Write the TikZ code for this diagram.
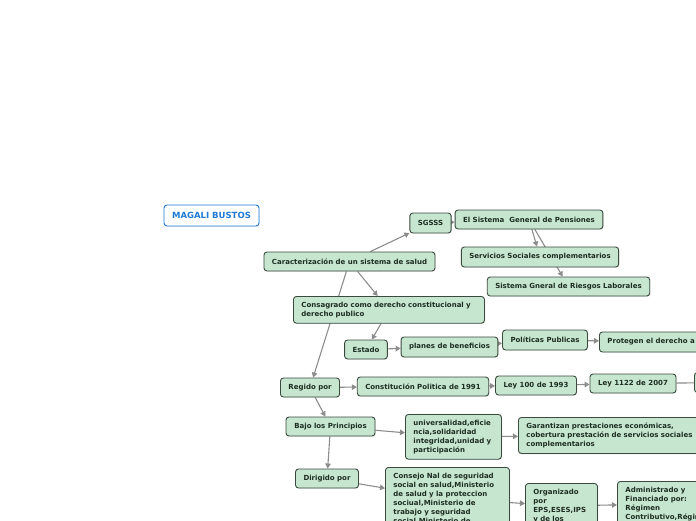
\documentclass[tikz,border=0pt]{standalone}
\usepackage{fontspec}
\setmainfont{DejaVu Sans}
\usetikzlibrary{arrows.meta,shadows,backgrounds}
\definecolor{boxgreen}{RGB}{199,230,207}
\definecolor{boxline}{RGB}{58,74,62}
\definecolor{boxtext}{RGB}{30,45,34}
\definecolor{nameblue}{RGB}{32,122,214}
\definecolor{linkgray}{RGB}{140,140,140}

\begin{document}
\begin{tikzpicture}[x=1pt, y=-1pt,
  idea/.style={draw=boxline, fill=boxgreen, line width=0.9pt, rounded corners=3pt, text=boxtext,
    font=\fontsize{7}{9}\selectfont\bfseries, inner xsep=8pt, inner ysep=3pt,
    drop shadow={opacity=0.15, shadow xshift=0.8pt, shadow yshift=-0.8pt}},
  block/.style={idea, align=left, anchor=north west, inner ysep=5.5pt},
  link/.style={draw=linkgray, line width=1.1pt, -{Triangle[width=5.5pt,length=5pt]}}]
\useasboundingbox (0,0) rectangle (696,520);
\clip (0,0) rectangle (696,520);

\node[draw=nameblue, fill=white, line width=0.9pt, rounded corners=3pt, text=nameblue,
  font=\fontsize{8.5}{10}\selectfont\bfseries, minimum width=95pt, minimum height=21pt,
  drop shadow={opacity=0.15, shadow xshift=0.8pt, shadow yshift=-0.8pt}] (magali) at (211.5, 215.5) {MAGALI BUSTOS};

\node[idea, minimum width=169pt, minimum height=19pt] (carac) at (349.5, 261.5) {Caracterización de un sistema de salud};
\node[idea, minimum width=41pt, minimum height=20pt] (sgsss) at (430.5, 223) {SGSSS};
\node[idea, minimum width=146pt, minimum height=19pt] (pensiones) at (529, 219.5) {El Sistema\ \ General de Pensiones};
\node[idea, minimum width=156pt, minimum height=20pt] (servicios) at (540, 257) {Servicios Sociales complementarios};
\node[idea, minimum width=161pt, minimum height=19pt] (riesgos) at (568.5, 286.5) {Sistema Gneral de Riesgos Laborales};

\node[block, text width=175pt] (consagrado) at (293, 296) {Consagrado como derecho constitucional y\\derecho publico};
\node[idea, minimum width=42pt, minimum height=19pt] (estado) at (366, 349.5) {Estado};
\node[idea, minimum width=95pt, minimum height=20pt] (planes) at (449.5, 347) {planes de beneficios};
\node[idea, minimum width=84pt, minimum height=20pt] (politicas) at (545, 340) {Políticas Publicas};
\node[idea, anchor=west, minimum width=110pt, minimum height=20pt] (protegen) at (599, 342) {Protegen el derecho a la salud};

\node[idea, minimum width=58pt, minimum height=19pt] (regido) at (310, 387.5) {Regido por};
\node[idea, minimum width=130pt, minimum height=19pt] (constitucion) at (423, 386.5) {Constitución Politica de 1991};
\node[idea, minimum width=80pt, minimum height=19pt] (ley100) at (536, 385.5) {Ley 100 de 1993};
\node[idea, minimum width=86pt, minimum height=19pt] (ley1122) at (633, 383.5) {Ley 1122 de 2007};
\node[idea, anchor=north west, minimum width=80pt, minimum height=20pt] (siguiente) at (694, 372) {};

\node[idea, minimum width=89pt, minimum height=19pt] (bajo) at (330.5, 426.5) {Bajo los Principios};
\node[block, text width=80pt] (principios) at (405, 414) {universalidad,eficie\\ncia,solidaridad\\integridad,unidad y\\participación};
\node[block, text width=176pt] (garantizan) at (518, 417) {Garantizan prestaciones económicas,\\cobertura prestación de servicios sociales\\complementarios};

\node[idea, minimum width=62pt, minimum height=19pt] (dirigido) at (327, 478.5) {Dirigido por};
\node[block, text width=108pt] (consejo) at (385, 467) {Consejo Nal de seguridad\\social en salud,Ministerio\\de salud y la proteccion\\sociual,Ministerio de\\trabajo y seguridad\\social,Ministerio de};
\node[block, text width=56pt] (organizado) at (525, 483) {Organizado\\por\\EPS,ESES,IPS\\y de los\\};
\node[block, text width=100pt] (administrado) at (617, 481) {Administrado y\\Financiado por:\\Régimen\\Contributivo,Régimen};

\begin{scope}[on background layer]
\draw[link] (carac) -- (sgsss);
\draw[link] (sgsss) -- (pensiones);
\draw[link] (pensiones) -- (servicios);
\draw[link] (pensiones) -- (riesgos);
\draw[link] (carac) -- (consagrado);
\draw[link] (carac) -- (regido);
\draw[link] (consagrado) -- (estado);
\draw[link] (estado) -- (planes);
\draw[link] (planes) -- (politicas);
\draw[link] (politicas) -- (protegen);
\draw[link] (regido) -- (constitucion);
\draw[link] (constitucion) -- (ley100);
\draw[link] (ley100) -- (ley1122);
\draw[draw=linkgray, line width=1.1pt] (ley1122) -- (siguiente);
\draw[link] (regido) -- (bajo);
\draw[link] (bajo) -- (principios);
\draw[link] (principios) -- (garantizan);
\draw[link] (bajo) -- (dirigido);
\draw[link] (dirigido) -- (consejo);
\draw[link] (consejo) -- (organizado);
\draw[link] (organizado) -- (administrado);
\end{scope}
\end{tikzpicture}
\end{document}
